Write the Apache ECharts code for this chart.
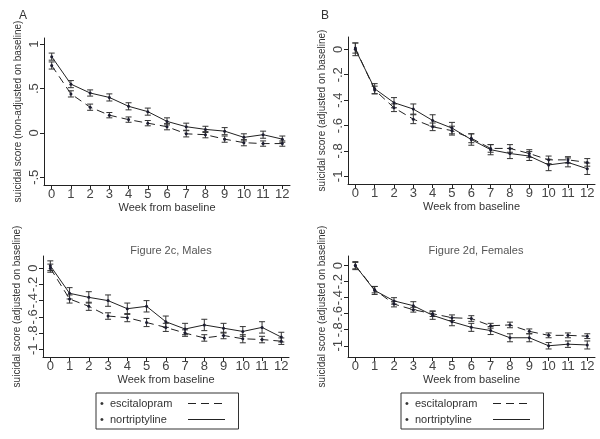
<!DOCTYPE html>
<html><head><meta charset="utf-8">
<script src="https://cdn.jsdelivr.net/npm/echarts@6/dist/echarts.min.js"></script>
<style>html,body{margin:0;padding:0;background:#fff}#c{width:600px;height:439px}</style>
</head><body><div id="c"></div>
<script>
// ---- data ----
const weeks = [0,1,2,3,4,5,6,7,8,9,10,11,12];
const seriesNames = ['escitalopram','nortriptyline'];
// Panel A (non-adjusted)
const escA    = [0.76,0.44,0.29,0.20,0.15,0.11,0.07,-0.01,-0.02,-0.07,-0.11,-0.12,-0.12];
const escA_ci = [0.04,0.035,0.035,0.03,0.03,0.03,0.035,0.035,0.035,0.035,0.035,0.03,0.03];
const norA    = [0.86,0.55,0.45,0.40,0.30,0.24,0.13,0.07,0.04,0.02,-0.05,-0.02,-0.07];
const norA_ci = [0.04,0.04,0.035,0.04,0.04,0.04,0.04,0.04,0.035,0.04,0.04,0.04,0.035];
// Panel B (adjusted)
const escB    = [0.01,-0.32,-0.46,-0.55,-0.61,-0.64,-0.70,-0.78,-0.78,-0.82,-0.87,-0.87,-0.89];
const escB_ci = [0.04,0.03,0.03,0.035,0.03,0.035,0.035,0.03,0.03,0.03,0.03,0.025,0.03];
const norB    = [0.00,-0.31,-0.42,-0.47,-0.56,-0.62,-0.71,-0.79,-0.82,-0.84,-0.91,-0.89,-0.94];
const norB_ci = [0.05,0.04,0.04,0.04,0.045,0.045,0.045,0.04,0.04,0.035,0.045,0.035,0.045];
// Panel C (males)
const escC    = [0.00,-0.38,-0.47,-0.59,-0.61,-0.67,-0.73,-0.80,-0.86,-0.83,-0.87,-0.88,-0.90];
const escC_ci = [0.05,0.05,0.05,0.04,0.05,0.05,0.05,0.04,0.04,0.04,0.05,0.04,0.04];
const norC    = [0.03,-0.31,-0.36,-0.40,-0.50,-0.47,-0.66,-0.75,-0.70,-0.74,-0.78,-0.73,-0.85];
const norC_ci = [0.06,0.07,0.07,0.07,0.07,0.07,0.07,0.07,0.07,0.06,0.06,0.07,0.06];
// Panel D (females)
const escD    = [0.00,-0.30,-0.48,-0.55,-0.60,-0.65,-0.66,-0.75,-0.74,-0.82,-0.87,-0.87,-0.88];
const escD_ci = [0.04,0.04,0.035,0.03,0.035,0.035,0.035,0.03,0.035,0.03,0.03,0.03,0.03];
const norD    = [0.00,-0.31,-0.44,-0.50,-0.62,-0.70,-0.77,-0.81,-0.90,-0.90,-1.00,-0.98,-0.99];
const norD_ci = [0.05,0.05,0.04,0.05,0.05,0.05,0.05,0.05,0.05,0.05,0.04,0.04,0.05];
// tick labels
const yTicksA = [-0.5,0,0.5,1];
const yTicksAdj = [-1,-0.8,-0.6,-0.4,-0.2,0];
const yTitleA = 'suicidal score (non-adjusted on baseline)';
const yTitleAdj = 'suicidal score (adjusted on baseline)';
const xTitle = 'Week from baseline';

// ---- layout ----
const panels = [
  {esc:escA, escCi:escA_ci, nor:norA, norCi:norA_ci, yTicks:yTicksA, yTitle:yTitleA,
   grid:{left:44,top:38,width:246,height:147}, xMin:-0.4, xMax:12.4, yMin:-0.587, yMax:1.07},
  {esc:escB, escCi:escB_ci, nor:norB, norCi:norB_ci, yTicks:yTicksAdj, yTitle:yTitleAdj,
   grid:{left:348,top:37,width:247,height:147}, xMin:-0.38, xMax:12.4, yMin:-1.06, yMax:0.097},
  {esc:escC, escCi:escC_ci, nor:norC, norCi:norC_ci, yTicks:yTicksAdj, yTitle:yTitleAdj,
   grid:{left:43,top:256,width:246,height:101}, xMin:-0.38, xMax:12.4, yMin:-1.095, yMax:0.15},
  {esc:escD, escCi:escD_ci, nor:norD, norCi:norD_ci, yTicks:yTicksAdj, yTitle:yTitleAdj,
   grid:{left:348,top:256,width:247,height:101}, xMin:-0.38, xMax:12.4, yMin:-1.14, yMax:0.12}
];

const FONT = 'Liberation Sans, Arial, sans-serif';
const INK = '#222';
const fmtY = v => { let s = String(Math.round(v*10)/10); return s.replace('0.', '.'); };

const grids = [], xAxes = [], yAxes = [], series = [];
function errRender(params, api){
  const x = api.value(0), lo = api.value(1), hi = api.value(2);
  const p1 = api.coord([x, lo]), p2 = api.coord([x, hi]);
  const w = 3;
  const st = {stroke:'#333', lineWidth:1};
  return {type:'group', children:[
    {type:'line', shape:{x1:p1[0],y1:p1[1],x2:p2[0],y2:p2[1]}, style:st},
    {type:'line', shape:{x1:p1[0]-w,y1:p1[1],x2:p1[0]+w,y2:p1[1]}, style:st},
    {type:'line', shape:{x1:p2[0]-w,y1:p2[1],x2:p2[0]+w,y2:p2[1]}, style:st}
  ]};
}
panels.forEach((p, i) => {
  grids.push(Object.assign({containLabel:false}, p.grid));
  xAxes.push({type:'value', gridIndex:i, min:p.xMin, max:p.xMax,
    name:xTitle, nameLocation:'middle', nameGap:17,
    nameTextStyle:{fontSize:11, color:'#333', fontFamily:FONT},
    axisLine:{show:true, onZero:false, lineStyle:{color:INK, width:1}},
    axisTick:{show:true, length:4, lineStyle:{color:INK}, customValues:weeks},
    axisLabel:{fontSize:13, color:'#444', fontFamily:FONT, margin:3, customValues:weeks, formatter:v=>String(v)},
    splitLine:{show:false}});
  yAxes.push({type:'value', gridIndex:i, min:p.yMin, max:p.yMax,
    name:p.yTitle, nameLocation:'middle', nameGap:21, nameRotate:90,
    nameTextStyle:{fontSize:10, color:'#333', fontFamily:FONT},
    axisLine:{show:true, onZero:false, lineStyle:{color:INK, width:1}},
    axisTick:{show:true, length:4, lineStyle:{color:INK}, customValues:p.yTicks},
    axisLabel:{fontSize:13, color:'#444', fontFamily:FONT, margin:3, rotate:90, customValues:p.yTicks, formatter:fmtY},
    splitLine:{show:false}});
  const mk = (vals, ci) => weeks.map((w, k) => [w, vals[k]-ci[k], vals[k]+ci[k]]);
  series.push({type:'custom', name:'ci_esc_'+i, xAxisIndex:i, yAxisIndex:i, renderItem:errRender,
    data:mk(p.esc, p.escCi), z:1, silent:true});
  series.push({type:'custom', name:'ci_nor_'+i, xAxisIndex:i, yAxisIndex:i, renderItem:errRender,
    data:mk(p.nor, p.norCi), z:1, silent:true});
  series.push({type:'line', name:'escitalopram', xAxisIndex:i, yAxisIndex:i,
    data:weeks.map((w,k)=>[w,p.esc[k]]), symbol:'circle', symbolSize:3, showSymbol:true,
    itemStyle:{color:'#1c1c30'}, lineStyle:{color:INK, width:1, type:[8,5]}, z:2});
  series.push({type:'line', name:'nortriptyline', xAxisIndex:i, yAxisIndex:i,
    data:weeks.map((w,k)=>[w,p.nor[k]]), symbol:'circle', symbolSize:3, showSymbol:true,
    itemStyle:{color:'#1c1c30'}, lineStyle:{color:INK, width:1, type:'solid'}, z:2});
});

const legendBase = {
  orient:'vertical', align:'right', data:seriesNames, selectedMode:false,
  borderColor:'#333', borderWidth:1, padding:[5,13,4,4],
  itemWidth:37, itemHeight:10, itemGap:5,
  itemStyle:{opacity:0},
  lineStyle:{width:1, color:INK},
  formatter: n => '{d|•}{t|' + n + '}',
  textStyle:{fontSize:11, color:'#333', fontFamily:FONT,
    rich:{d:{width:10, align:'left', fontSize:11, fontFamily:FONT, color:'#333'},
          t:{width:73, align:'left', fontSize:11, fontFamily:FONT, color:'#333'}}}
};
const legends = [Object.assign({left:96, top:393}, legendBase), Object.assign({left:401, top:393}, legendBase)];

const titles = [
  {text:'A', left:14, top:5, textStyle:{fontSize:12, fontWeight:'normal', color:'#333', fontFamily:FONT}},
  {text:'B', left:316, top:5, textStyle:{fontSize:12, fontWeight:'normal', color:'#333', fontFamily:FONT}},
  {text:'Figure 2c, Males', left:166, top:240, textAlign:'center', textStyle:{fontSize:11, fontWeight:'normal', color:'#555', fontFamily:FONT}},
  {text:'Figure 2d, Females', left:471, top:240, textAlign:'center', textStyle:{fontSize:11, fontWeight:'normal', color:'#555', fontFamily:FONT}}
];

const chart = echarts.init(document.getElementById('c'), null, {renderer:'canvas'});
chart.setOption({animation:false, backgroundColor:'#fff', title:titles, grid:grids, xAxis:xAxes, yAxis:yAxes, legend:legends, series:series});
</script></body></html>
